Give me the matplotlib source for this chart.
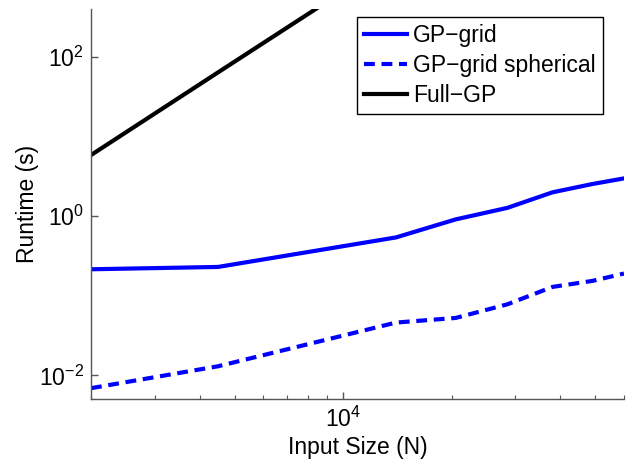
import numpy as np
import matplotlib
matplotlib.use("Agg")
import matplotlib.pyplot as plt
from matplotlib.ticker import NullLocator, LogLocator

plt.rcParams['font.family'] = ['Liberation Sans', 'DejaVu Sans']
plt.rcParams['mathtext.default'] = 'regular'

# data
n_grid = [2000, 4500, 14000, 20500, 28500, 38000, 49000, 60000]
t_grid = [0.215, 0.23, 0.54, 0.91, 1.27, 1.99, 2.53, 2.98]
t_spherical = [0.0069, 0.013, 0.046, 0.0526, 0.078, 0.129, 0.1535, 0.19]
n_full = [2000, 4500, 14000]
t_full = [5.85, 64, 1800]

fig = plt.figure(figsize=(6.33, 4.62), dpi=100)
ax = fig.add_axes([91/633, 1 - 399.3/462, 533/633, 390.3/462])

ax.plot(n_grid, t_grid, color='#0000ff', lw=3, label='GP\u2212grid')
ax.plot(n_grid, t_spherical, color='#0000ff', lw=3, ls=(0, (2.6, 1.6)),
        label='GP\u2212grid spherical')
ax.plot(n_full, t_full, color='black', lw=3, label='Full\u2212GP')

ax.set_xscale('log')
ax.set_yscale('log')
ax.set_xlim(2000, 60000)
ax.set_ylim(0.005, 400)
ax.set_xticks([1e4])
ax.xaxis.set_minor_locator(LogLocator(base=10, subs=np.arange(2, 10)))
ax.set_yticks([1e-2, 1, 1e2])
ax.yaxis.set_minor_locator(NullLocator())

ax.set_xlabel('Input Size (N)', fontsize=16.5, labelpad=3)
ax.set_ylabel('Runtime (s)', fontsize=16.5, labelpad=0)

for side in ['top', 'right']:
    ax.spines[side].set_visible(False)
for side in ['left', 'bottom']:
    ax.spines[side].set_color('#555555')
    ax.spines[side].set_linewidth(1)
ax.tick_params(which='both', direction='in', colors='#555555', labelcolor='black',
               labelsize=16.5)
ax.tick_params(which='major', length=5, width=1, pad=5)
ax.tick_params(which='minor', length=3, width=0.8)
ax.xaxis.set_minor_formatter(plt.NullFormatter())

leg = ax.legend(loc='upper left', bbox_to_anchor=(0.499, 0.9795), borderaxespad=0,
                fontsize=16.5, fancybox=False, framealpha=1, edgecolor='black',
                handlelength=1.9, handletextpad=0.26, borderpad=0.3, labelspacing=0.3)
leg.get_frame().set_linewidth(1)

fig.savefig('out.png', dpi=100)
